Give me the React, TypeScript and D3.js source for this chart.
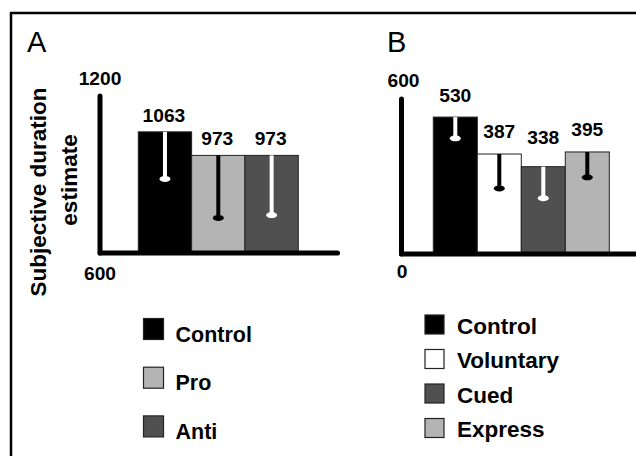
import React from "react";
import * as d3 from "d3";

// ---- Data ----
const catsA = ["Control", "Pro", "Anti"];
const valuesA = [1063, 973, 973];
const errA = [180, 239, 228];
const ticksA = [600, 1200];

const catsB = ["Control", "Voluntary", "Cued", "Express"];
const valuesB = [530, 387, 338, 395];
const errB = [82, 133, 122, 98];
const ticksB = [0, 600];

// ---- Styles / layout ----
const FONT = "'Liberation Sans', Arial, Helvetica, sans-serif";
const fillA: Record<string, string> = { Control: "#000000", Pro: "#b4b4b4", Anti: "#505050" };
const fillB: Record<string, string> = { Control: "#000000", Voluntary: "#ffffff", Cued: "#505050", Express: "#b4b4b4" };
const errColorA: Record<string, string> = { Control: "#ffffff", Pro: "#000000", Anti: "#ffffff" };
const errColorB: Record<string, string> = { Control: "#ffffff", Voluntary: "#000000", Cued: "#ffffff", Express: "#000000" };
const liftA = [10, 10, 10];
const liftB = [15, 16, 23, 16];
const NUM_FS = 19.2;

function ErrorBar({ x, y1, y2, color }: { x: number; y1: number; y2: number; color: string }) {
  return (
    <g>
      <line x1={x} x2={x} y1={y1} y2={y2} stroke={color} strokeWidth={4} />
      <ellipse cx={x} cy={y2} rx={5.5} ry={3} fill={color} />
    </g>
  );
}

export default function App() {
  // Panel A scales
  const yA = d3.scaleLinear().domain([600, 1200]).range([253, 96]);
  const xA = d3.scaleBand<string>().domain(catsA).range([138.3, 298.3]).paddingInner(0);
  // Panel B scales
  const yB = d3.scaleLinear().domain([0, 600]).range([254, 99]);
  const xB = d3.scaleBand<string>().domain(catsB).range([433.3, 609.3]).paddingInner(0);

  const axA = 100;
  const axB = 401.5;

  return (
    <svg
      width={636}
      height={456}
      style={{ position: "absolute", left: 0, top: 0, background: "#fff" }}
      fontFamily={FONT}
    >
      <rect x={0} y={0} width={636} height={456} fill="#fff" />
      {/* frame */}
      <line x1={10} x2={636} y1={13} y2={13} stroke="#000" strokeWidth={2.5} />
      <line x1={11} x2={11} y1={12} y2={456} stroke="#000" strokeWidth={2.5} />

      {/* panel letters */}
      <text x={27} y={52} fontSize={29} fill="#000">A</text>
      <text x={387} y={52} fontSize={29} fill="#000">B</text>

      {/* Y title */}
      <text
        transform={`translate(46,192) rotate(-90)`}
        textAnchor="middle"
        fontSize={22.5}
        fontWeight="bold"
      >
        Subjective duration
      </text>
      <text
        transform={`translate(77,180) rotate(-90)`}
        textAnchor="middle"
        fontSize={22.5}
        fontWeight="bold"
      >
        estimate
      </text>

      {/* Panel A bars */}
      {catsA.map((c, i) => {
        const x = xA(c)!;
        const w = xA.bandwidth();
        const top = yA(valuesA[i]);
        return (
          <g key={c}>
            <rect x={x} y={top} width={w} height={yA(600) - top} fill={fillA[c]} stroke="#222" strokeWidth={1} />
            <ErrorBar x={x + w / 2} y1={top} y2={yA(valuesA[i] - errA[i])} color={errColorA[c]} />
            <text x={x + w / 2 - 1} y={top - liftA[i]} textAnchor="middle" fontSize={NUM_FS} fontWeight="bold">
              {valuesA[i]}
            </text>
          </g>
        );
      })}
      {/* Panel A axes */}
      <line x1={axA} x2={axA} y1={yA(1200)} y2={yA(600)} stroke="#000" strokeWidth={5} strokeLinecap="round" />
      <line x1={axA} x2={337.5} y1={yA(600)} y2={yA(600)} stroke="#000" strokeWidth={5} strokeLinecap="round" />
      <text x={axA} y={85} textAnchor="middle" fontSize={NUM_FS} fontWeight="bold">{ticksA[1]}</text>
      <text x={axA} y={280} textAnchor="middle" fontSize={NUM_FS} fontWeight="bold">{ticksA[0]}</text>

      {/* Panel B bars */}
      {catsB.map((c, i) => {
        const x = xB(c)!;
        const w = xB.bandwidth();
        const top = yB(valuesB[i]);
        return (
          <g key={c}>
            <rect x={x} y={top} width={w} height={yB(0) - top} fill={fillB[c]} stroke="#222" strokeWidth={1} />
            <ErrorBar x={x + w / 2} y1={top} y2={yB(valuesB[i] - errB[i])} color={errColorB[c]} />
            <text x={x + w / 2} y={top - liftB[i]} textAnchor="middle" fontSize={NUM_FS} fontWeight="bold">
              {valuesB[i]}
            </text>
          </g>
        );
      })}
      {/* Panel B axes */}
      <line x1={axB} x2={axB} y1={yB(600)} y2={yB(0)} stroke="#000" strokeWidth={5} strokeLinecap="round" />
      <line x1={axB} x2={640} y1={yB(0)} y2={yB(0)} stroke="#000" strokeWidth={5} strokeLinecap="round" />
      <text x={403.5} y={87} textAnchor="middle" fontSize={NUM_FS} fontWeight="bold">{ticksB[1]}</text>
      <text x={402} y={278} textAnchor="middle" fontSize={NUM_FS} fontWeight="bold">{ticksB[0]}</text>

      {/* Legend A */}
      {catsA.map((c, i) => (
        <g key={c} transform={`translate(143.5,${318.5 + i * 48.7})`}>
          <rect x={0} y={0} width={20} height={21} fill={fillA[c]} stroke="#222" strokeWidth={1.2} />
          <text x={32} y={23} fontSize={21.5} fontWeight="bold">{c}</text>
        </g>
      ))}

      {/* Legend B */}
      {catsB.map((c, i) => (
        <g key={c} transform={`translate(425,${315 + i * 34.5})`}>
          <rect x={0} y={0} width={19} height={19} fill={fillB[c]} stroke="#222" strokeWidth={1.2} />
          <text x={32} y={18.5} fontSize={22.5} fontWeight="bold">{c}</text>
        </g>
      ))}
    </svg>
  );
}
